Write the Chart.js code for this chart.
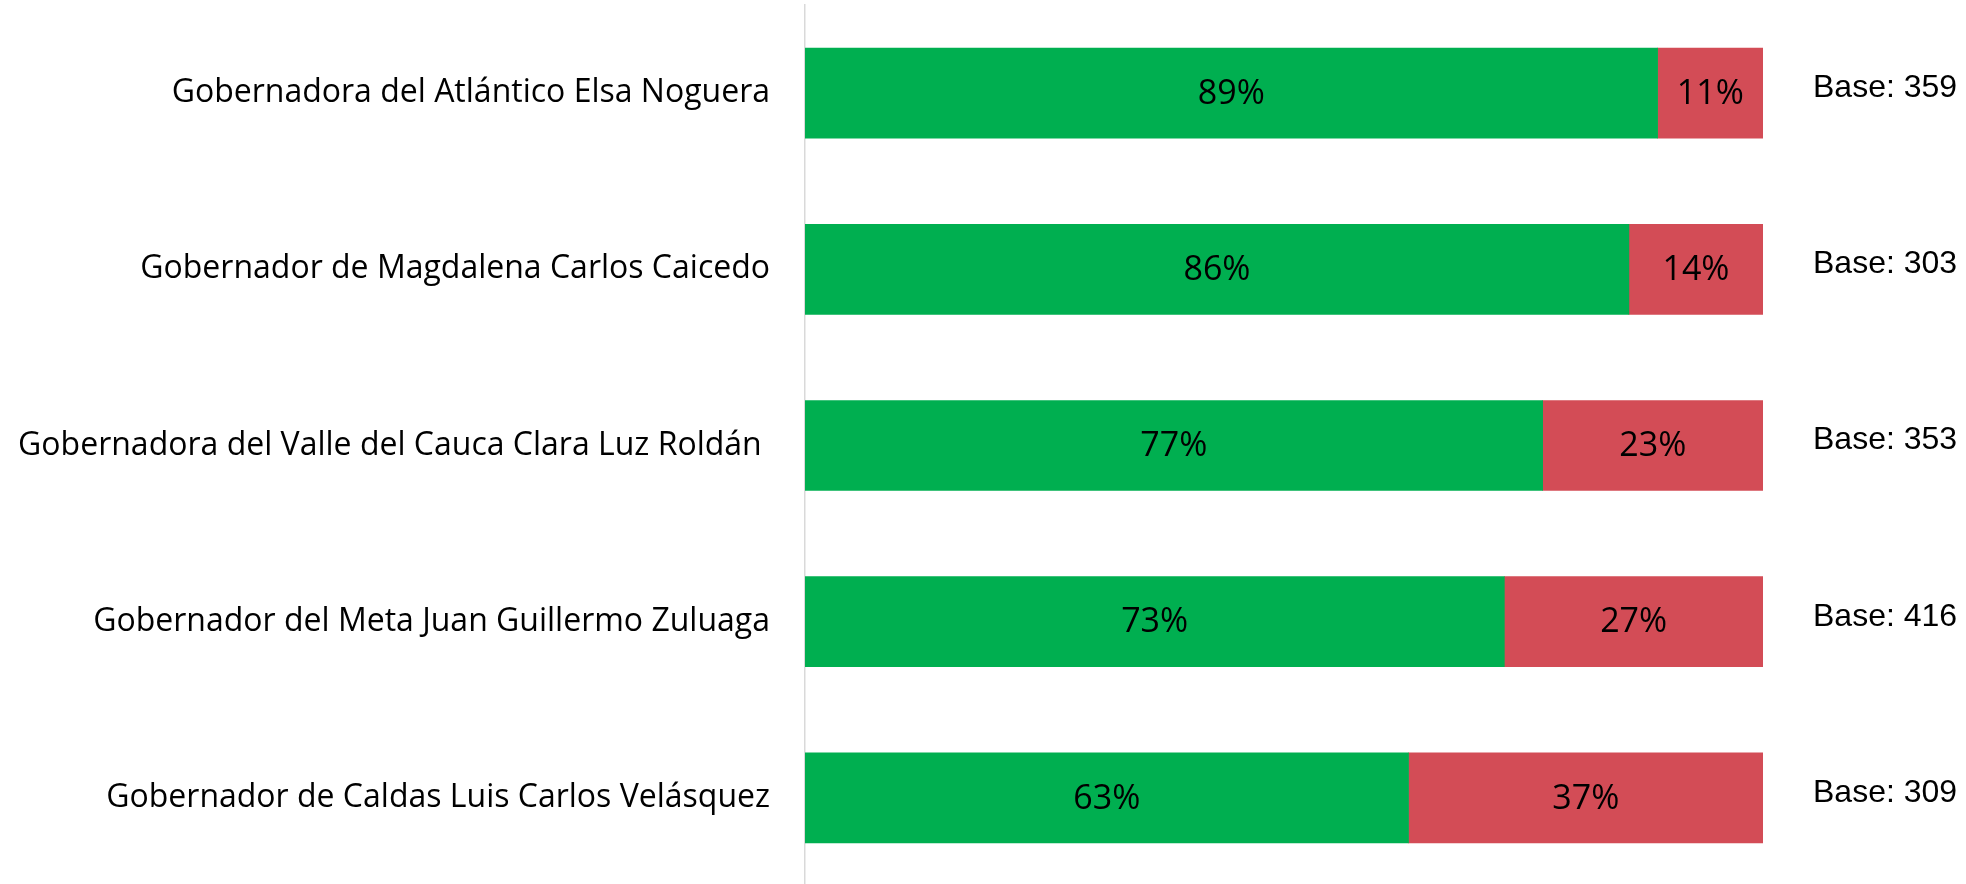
<!DOCTYPE html>
<html>
<head>
<meta charset="utf-8">
<script src="https://cdn.jsdelivr.net/npm/chart.js@4/dist/chart.umd.min.js"></script>
<style>
  html, body { margin: 0; padding: 0; background: #fff; overflow: hidden; }
  #wrap { width: 1966px; height: 886px; }
</style>
</head>
<body>
<div id="wrap"><canvas id="chart"></canvas></div>
<script>
// categories, values and bases
var labels = [
    "Gobernadora del Atlántico Elsa Noguera",
    "Gobernador de Magdalena Carlos Caicedo",
    "Gobernadora del Valle del Cauca Clara Luz Roldán ",
    "Gobernador del Meta Juan Guillermo Zuluaga",
    "Gobernador de Caldas Luis Carlos Velásquez"
];
var favorable = [89, 86, 77, 73, 63];
var unfavorable = [11, 14, 23, 27, 37];
var bases = [359, 303, 353, 416, 309];

var labelFont = "'Open Sans', 'Noto Sans', sans-serif";

// writes the % inside each segment and the "Base: n" to the right
var barText = {
    id: "barText",
    afterDatasetsDraw: function(chart) {
        var ctx = chart.ctx;
        ctx.save();
        ctx.fillStyle = "#000";
        ctx.textAlign = "center";
        ctx.textBaseline = "middle";
        ctx.font = "34px " + labelFont;
        chart.data.datasets.forEach(function(ds, i) {
            var meta = chart.getDatasetMeta(i);
            meta.data.forEach(function(bar, j) {
                var cx = (bar.x + bar.base) / 2;
                ctx.fillText(ds.data[j] + "%", cx, bar.y + 1);
            });
        });
        ctx.textAlign = "left";
        ctx.font = "32px 'Liberation Sans', Arial, sans-serif";
        var meta0 = chart.getDatasetMeta(0);
        meta0.data.forEach(function(bar, j) {
            ctx.fillText("Base: " + bases[j], chart.chartArea.right + 50, bar.y - 5);
        });
        ctx.restore();
    }
};

var ctx = document.getElementById("chart").getContext("2d");
var myChart = new Chart(ctx, {
    type: "bar",
    data: {
        labels: labels,
        datasets: [{
            label: "Favorable",
            data: favorable,
            backgroundColor: "#00AF50",
            barThickness: 90
        }, {
            label: "Desfavorable",
            data: unfavorable,
            backgroundColor: "#D34C56",
            barThickness: 90
        }]
    },
    options: {
        indexAxis: "y",
        responsive: true,
        maintainAspectRatio: false,
        animation: false,
        layout: { padding: { top: 5, right: 203, bottom: 0, left: 0 } },
        plugins: {
            legend: { display: false },
            tooltip: { enabled: false }
        },
        scales: {
            x: {
                stacked: true,
                min: 0,
                max: 100,
                display: false
            },
            y: {
                stacked: true,
                grid: { display: false },
                border: { display: true, color: "#d9d9d9", width: 1.5 },
                ticks: {
                    color: "#000",
                    padding: 27,
                    font: { family: labelFont, size: 32 }
                },
                afterFit: function(scale) {
                    scale.width = 805;
                    // tick padding would otherwise shrink the plot vertically
                    scale.paddingTop = 0;
                    scale.paddingBottom = 0;
                }
            }
        }
    },
    plugins: [barText]
});
</script>
</body>
</html>
